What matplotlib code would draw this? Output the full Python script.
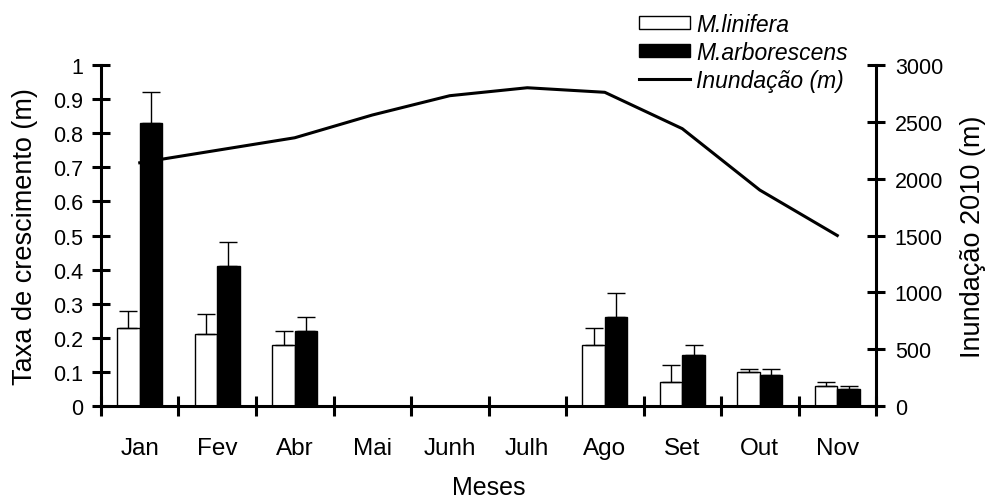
import matplotlib
matplotlib.use('Agg')
import matplotlib.pyplot as plt
import numpy as np
from matplotlib.patches import Patch
from matplotlib.lines import Line2D

plt.rcParams['font.family'] = ['Liberation Sans', 'DejaVu Sans']

# dados
meses = ['Jan', 'Fev', 'Abr', 'Mai', 'Junh', 'Julh', 'Ago', 'Set', 'Out', 'Nov']
linifera = [0.23, 0.21, 0.18, np.nan, np.nan, np.nan, 0.18, 0.07, 0.10, 0.06]
linifera_err = [0.05, 0.06, 0.04, np.nan, np.nan, np.nan, 0.05, 0.05, 0.01, 0.01]
arborescens = [0.83, 0.41, 0.22, np.nan, np.nan, np.nan, 0.26, 0.15, 0.09, 0.05]
arborescens_err = [0.09, 0.07, 0.04, np.nan, np.nan, np.nan, 0.07, 0.03, 0.02, 0.01]
inundacao = [2140, 2250, 2360, 2560, 2730, 2800, 2760, 2440, 1900, 1500]


def plot_crescimento():
    fig = plt.figure(figsize=(9.91, 5.02), dpi=100)
    ax = fig.add_axes([0.1019, 0.1892, 0.7821, 0.6793])

    x = np.arange(len(meses))
    w = 0.29
    zeros = np.zeros(len(meses))
    ekw = dict(elinewidth=1, capthick=1, ecolor='black')

    ax.bar(x - w / 2, linifera, w, color='white', edgecolor='black', linewidth=1,
           yerr=[zeros, linifera_err], capsize=6.5, error_kw=ekw)
    ax.bar(x + w / 2, arborescens, w, color='black', edgecolor='black', linewidth=1,
           yerr=[zeros, arborescens_err], capsize=6.5, error_kw=ekw)

    ax.set_xlim(-0.5, len(meses) - 0.5)
    ax.set_ylim(0, 1)
    ax.set_yticks(np.arange(0, 1.01, 0.1))
    ax.set_yticklabels(['0'] + [f'{v:.1f}' for v in np.arange(0.1, 0.95, 0.1)] + ['1'])

    # ticks nas divisas, rótulos no centro
    ax.set_xticks(np.arange(-0.5, len(meses), 1))
    ax.set_xticklabels([])
    ax.set_xticks(x, minor=True)
    ax.set_xticklabels(meses, minor=True)

    for s in ['top', 'right']:
        ax.spines[s].set_visible(False)
    for s in ['left', 'bottom']:
        ax.spines[s].set_linewidth(2.2)

    ax.tick_params(axis='y', direction='inout', length=13, width=2.2, labelsize=15.5, pad=6)
    ax.tick_params(axis='x', which='major', direction='inout', length=14, width=2.2)
    ax.tick_params(axis='x', which='minor', length=0, labelsize=17.5, pad=22)

    ax2 = ax.twinx()
    ax2.plot(x, inundacao, color='black', linewidth=2.2)
    ax2.set_ylim(0, 3000)
    ax2.set_yticks(np.arange(0, 3001, 500))
    for s in ['top', 'left', 'bottom']:
        ax2.spines[s].set_visible(False)
    ax2.spines['right'].set_linewidth(2.2)
    ax2.tick_params(axis='y', direction='inout', length=13, width=2.2, labelsize=15.5, pad=7)

    fig.text(0.4929, 0.028, 'Meses', ha='center', va='center', fontsize=18)
    fig.text(0.025, 0.529, 'Taxa de crescimento (m)', rotation=90,
             ha='center', va='center', fontsize=19.5)
    fig.text(0.982, 0.529, 'Inundação 2010 (m)', rotation=90,
             ha='center', va='center', fontsize=19.5)

    handles = [Patch(facecolor='white', edgecolor='black', linewidth=1),
               Patch(facecolor='black', edgecolor='black'),
               Line2D([], [], color='black', linewidth=2.2)]
    labels = ['M.linifera', 'M.arborescens', 'Inundação (m)']
    fig.legend(handles, labels, loc='upper left', bbox_to_anchor=(0.645, 0.972),
               frameon=False, prop=dict(style='italic', size=16.5),
               handlelength=2.2, handleheight=0.5, handletextpad=0.3,
               labelspacing=0.21, borderpad=0, borderaxespad=0)

    fig.savefig('out.png', dpi=100)


if __name__ == '__main__':
    plot_crescimento()
